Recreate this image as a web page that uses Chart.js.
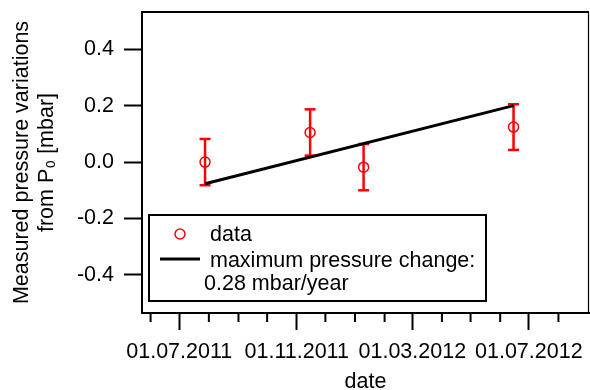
<!DOCTYPE html>
<html><head><meta charset="utf-8">
<script src="https://cdn.jsdelivr.net/npm/chart.js@4.4.1/dist/chart.umd.min.js"></script>
<style>html,body{margin:0;padding:0;background:#fff}#wrap{width:590px;height:390px}</style>
</head><body><div id="wrap"><canvas id="c" width="590" height="390"></canvas></div>
<script>
// ---- data ----
const measDates = ['2011-07-28','2011-11-15','2012-01-10','2012-06-15'];
const measValues = [0.000, 0.105, -0.018, 0.124];
const measErrors = [0.082, 0.082, 0.082, 0.081];
const fitDates = ['2011-07-28','2012-06-15'];
const fitValues = [-0.077, 0.200];
const xMajorTickDates = ['2011-07-01','2011-11-01','2012-03-01','2012-07-01'];
const xMinorTickDates = ['2011-06-01','2011-08-01','2011-09-01','2011-10-01','2011-12-01','2012-01-01','2012-02-01','2012-04-01','2012-05-01','2012-06-01','2012-08-01'];
const xRange = ['2011-05-23','2012-09-02'];
const yTicks = [-0.4,-0.2,0.0,0.2,0.4];
const yRange = [-0.535, 0.532];
const legendLabels = ['data', ['maximum pressure change:','0.28 mbar/year']];
const xTitle = 'date';
const yTitle = ['Measured pressure variations','from P\u2080 [mbar]'];

// ---- helpers ----
const FONT = '"Liberation Sans", Arial, sans-serif';
const FS = 21.5;
const toDay = s => { const [y,m,d] = s.split('-').map(Number); return Date.UTC(y,m-1,d)/86400000; };
const p2 = n => (n<10?'0':'')+n;
const fmtDay = v => { const dt = new Date(Math.round(v)*86400000); return p2(dt.getUTCDate())+'.'+p2(dt.getUTCMonth()+1)+'.'+dt.getUTCFullYear(); };

const pointData = measDates.map((d,i)=>({x:toDay(d), y:measValues[i]}));
const errData = [];
measDates.forEach((d,i)=>{
  errData.push({x:toDay(d), y:measValues[i]-measErrors[i]});
  errData.push({x:toDay(d), y:measValues[i]+measErrors[i]});
  errData.push({x:toDay(d), y:null});
});
const fitData = fitDates.map((d,i)=>({x:toDay(d), y:fitValues[i]}));

const framePlugin = {
  id:'frame',
  afterDraw(chart){
    const {ctx, chartArea:a, scales} = chart;
    ctx.save();
    ctx.strokeStyle = '#000';
    ctx.lineWidth = 2;
    ctx.beginPath(); ctx.moveTo(a.left-1, a.top); ctx.lineTo(a.right, a.top); ctx.stroke();
    ctx.lineWidth = 1.2;
    ctx.beginPath(); ctx.moveTo(a.right-0.5, a.top); ctx.lineTo(a.right-0.5, a.bottom); ctx.stroke();
    // minor ticks
    ctx.lineWidth = 2;
    xMinorTickDates.forEach(d=>{
      const x = scales.x.getPixelForValue(toDay(d));
      ctx.beginPath(); ctx.moveTo(x, a.bottom); ctx.lineTo(x, a.bottom+9); ctx.stroke();
    });
    // legend
    const L = a.left + 7, T = a.bottom - 98, W = 337, H = 86;
    ctx.lineWidth = 2;
    ctx.strokeRect(L, T, W, H);
    ctx.strokeStyle = '#ff0000'; ctx.lineWidth = 1.5;
    ctx.beginPath(); ctx.arc(L+31, T+19, 5, 0, Math.PI*2); ctx.stroke();
    ctx.strokeStyle = '#000'; ctx.lineWidth = 3;
    ctx.beginPath(); ctx.moveTo(L+11, T+44); ctx.lineTo(L+51, T+44); ctx.stroke();
    ctx.fillStyle = '#000';
    ctx.font = FS+'px '+FONT;
    ctx.textBaseline = 'alphabetic';
    ctx.textAlign = 'left';
    ctx.fillText(legendLabels[0], L+61, T+26);
    ctx.fillText(legendLabels[1][0], L+61, T+52);
    ctx.fillText(legendLabels[1][1], L+55, T+75);
    ctx.restore();
  }
};

new Chart(document.getElementById('c'), {
  type:'scatter',
  data:{ datasets:[
    { label:'fit', type:'line', data:fitData, borderColor:'#000', borderWidth:3, pointRadius:0, order:0 },
    { label:legendLabels[0], type:'scatter', data:pointData, pointStyle:'circle', pointRadius:5,
      borderColor:'#ff0000', pointBorderColor:'#ff0000', backgroundColor:'rgba(0,0,0,0)', pointBackgroundColor:'rgba(0,0,0,0)', pointBorderWidth:1.5, order:1 },
    { label:'err', type:'line', data:errData, borderColor:'#ff0000', borderWidth:2.5, spanGaps:false,
      pointStyle:'line', pointRadius:5.5, pointBorderWidth:2.5, pointBorderColor:'#ff0000', order:2 }
  ]},
  options:{
    responsive:false, animation:false, events:[], devicePixelRatio:1,
    layout:{ autoPadding:false, padding:{ top:12, right:1, left:0, bottom:0 } },
    plugins:{ legend:{display:false}, tooltip:{enabled:false} },
    scales:{
      x:{
        type:'linear', min:toDay(xRange[0]), max:toDay(xRange[1]),
        afterBuildTicks: s => { s.ticks = xMajorTickDates.map(d=>({value:toDay(d)})); },
        afterFit: s => { s.height = 77; s.paddingLeft = 0; s.paddingRight = 0; },
        ticks:{ callback: v => fmtDay(v), autoSkip:false, maxRotation:0, minRotation:0, color:'#000', font:{family:FONT, size:FS, lineHeight:2.04}, padding:0 },
        grid:{ drawOnChartArea:false, drawTicks:true, tickLength:17, tickColor:'#000', tickWidth:2 },
        border:{ display:true, color:'#000', width:2 },
        title:{ display:true, text:xTitle, color:'#000', font:{family:FONT, size:FS, lineHeight:0.77}, padding:0 }
      },
      y:{
        type:'linear', min:yRange[0], max:yRange[1],
        afterBuildTicks: s => { s.ticks = yTicks.map(v=>({value:v})); },
        afterFit: s => { s.width = 142; s.paddingTop = 0; s.paddingBottom = 0; },
        ticks:{ callback: v => (Math.abs(v)<1e-9?0:v).toFixed(1), color:'#000', font:{family:FONT, size:FS}, padding:10 },
        grid:{ drawOnChartArea:false, drawTicks:true, tickLength:18, tickColor:'#000', tickWidth:2 },
        border:{ display:true, color:'#000', width:2 },
        title:{ display:true, text:yTitle, color:'#000', font:{family:FONT, size:FS, lineHeight:1.15}, padding:{top:10, bottom:0} }
      }
    }
  },
  plugins:[framePlugin]
});
</script>
</body></html>
